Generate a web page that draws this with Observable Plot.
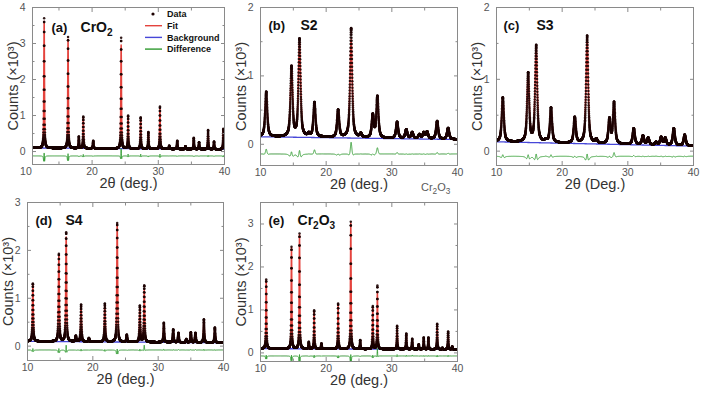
<!DOCTYPE html>
<html>
<head>
<meta charset="utf-8">
<script src="https://cdn.jsdelivr.net/npm/d3@7"></script>
<script src="https://cdn.jsdelivr.net/npm/@observablehq/plot@0.6"></script>
<style>
  body { margin: 0; background: #fff; }
  #fig { position: relative; width: 703px; height: 407px; overflow: hidden;
         font-family: "Liberation Sans", Arial, sans-serif; }
  #fig > svg, #fig > div { position: absolute; }
  .note { font-size: 11px; color: #5a5a5a; }
  .note sub { font-size: 75%; }
</style>
</head>
<body>
<div id="fig"></div>
<script>
// ---- Rietveld refinements of the five samples (counts in units of 10^3) ----
const panelTags   = ["(a)", "(b)", "(c)", "(d)", "(e)"];
const sampleNames = ["CrO₂", "S2", "S3", "S4", "Cr₂O₃"];
const xTitles     = ["2θ (deg.)", "2θ (deg.)", "2θ (Deg.)", "2θ (deg.)", "2θ (deg.)"];
const yTitle      = "Counts (×10³)";
const twoThetaRanges = [[11, 40], [10, 40], [10, 40], [10, 40], [10, 40]];
const countRanges    = [[-0.36, 4], [-0.31, 2], [-0.2, 2], [-0.3, 3], [-0.2, 3.5]];
const xTickLabels    = [10, 20, 30, 40];
const xMinorTicks    = [15, 25, 35];
const yTickLabels    = [[0, 1, 2, 3, 4], [0, 1, 2], [0, 1, 2], [0, 1, 2, 3], [0, 1, 2, 3]];
const yMinorTicks    = [[0.5, 1.5, 2.5, 3.5], [0.5, 1.5], [0.5, 1.5], [0.5, 1.5, 2.5], [0.5, 1.5, 2.5]];

// Reflection positions (2θ), fitted peak heights and observed peak heights
const posA = [12.76, 16.37, 18.0, 18.67, 20.17, 24.39, 25.44, 27.34, 28.5, 30.25, 31.65, 32.86, 34.1, 35.36, 36.16, 37.52, 38.42, 39.82];
const fitA = [3.62, 3.12, 0.42, 0.93, 0.30, 2.96, 0.95, 0.90, 0.54, 1.20, 0.16, 0.30, 0.15, 0.38, 0.26, 0.58, 0.28, 0.62];
const obsA = [3.70, 3.18, 0.42, 0.97, 0.30, 3.16, 1.00, 0.95, 0.54, 1.25, 0.16, 0.30, 0.15, 0.38, 0.26, 0.60, 0.28, 0.63];

const posB = [10.87, 14.72, 15.94, 17.36, 18.22, 19.39, 21.82, 23.8, 25.27, 27.1, 27.8, 30.8, 32.2, 33.1, 34.2, 34.86, 35.37, 36.9, 38.57];
const fitB = [0.70, 1.12, 1.50, 0.18, 0.56, 0.12, 0.51, 1.53, 0.17, 0.45, 0.62, 0.31, 0.22, 0.18, 0.15, 0.18, 0.19, 0.32, 0.23];
const obsB = [0.77, 1.15, 1.55, 0.18, 0.62, 0.12, 0.51, 1.70, 0.17, 0.45, 0.71, 0.33, 0.22, 0.18, 0.15, 0.18, 0.19, 0.34, 0.24];

const posC = [10.96, 14.82, 16.04, 17.5, 18.3, 19.48, 21.92, 23.8, 25.2, 27.2, 27.9, 30.9, 32.3, 33.1, 34.3, 35.07, 35.7, 37.0, 38.66];
const fitC = [0.73, 1.08, 1.45, 0.18, 0.59, 0.12, 0.48, 1.58, 0.18, 0.47, 0.64, 0.31, 0.22, 0.19, 0.13, 0.20, 0.19, 0.32, 0.23];
const obsC = [0.75, 1.10, 1.48, 0.18, 0.61, 0.12, 0.48, 1.61, 0.18, 0.47, 0.69, 0.32, 0.22, 0.19, 0.13, 0.20, 0.19, 0.32, 0.23];

const posD = [10.82, 14.8, 15.92, 17.4, 18.2, 19.4, 21.84, 23.73, 25.2, 27.2, 27.87, 30.87, 32.3, 33.1, 34.3, 35.0, 35.7, 37.0, 38.68];
const fitD = [1.28, 1.90, 2.28, 0.22, 0.85, 0.17, 0.88, 2.55, 0.24, 0.83, 1.17, 0.47, 0.34, 0.27, 0.15, 0.28, 0.27, 0.54, 0.38];
const obsD = [1.31, 1.93, 2.38, 0.22, 0.87, 0.17, 0.89, 2.57, 0.24, 0.85, 1.27, 0.49, 0.35, 0.28, 0.15, 0.29, 0.28, 0.56, 0.39];

const posE = [10.87, 14.72, 15.94, 17.36, 18.17, 19.28, 21.82, 23.75, 25.18, 27.1, 27.8, 30.8, 32.2, 33.1, 34.1, 34.86, 35.57, 36.9, 37.7, 38.57, 39.2];
const fitE = [1.69, 2.45, 2.75, 0.26, 0.97, 0.22, 1.14, 3.02, 0.30, 1.07, 1.40, 0.60, 0.43, 0.31, 0.20, 0.35, 0.35, 0.66, 0.12, 0.48, 0.15];
const obsE = [1.71, 2.47, 2.78, 0.26, 0.99, 0.22, 1.15, 3.05, 0.30, 1.09, 1.57, 0.63, 0.45, 0.33, 0.20, 0.36, 0.36, 0.68, 0.12, 0.50, 0.15];

// Linear background (start, end), offset of the difference curve, peak FWHM (deg) and Lorentzian fraction
const backgroundEnds    = [[0.10, 0.06], [0.11, 0.07], [0.13, 0.07], [0.10, 0.07], [0.10, 0.08]];
const differenceOffsets = [-0.12, -0.14, -0.07, -0.08, -0.07];
const fitFWHM           = [0.12, 0.40, 0.40, 0.16, 0.12];
const obsFWHM           = [0.11, 0.37, 0.37, 0.15, 0.11];
const lorentzFraction   = [0.6, 0.7, 0.7, 0.6, 0.6];
const scanStep = 0.01;

const peakPositions = [posA, posB, posC, posD, posE];
const fitHeights    = [fitA, fitB, fitC, fitD, fitE];
const obsHeights    = [obsA, obsB, obsC, obsD, obsE];

// ---- page layout: plot frame [left, top, right, bottom] of each panel ----
const frames = [[32, 7, 224, 164], [260, 7, 457, 165], [496, 7, 693, 165], [27, 202, 223, 360], [260, 202, 457, 361]];
const tagOffsets  = [[19, 15], [8, 13], [7, 13], [8, 13], [8, 13]];
const nameOffsets = [48, 40, 40, 38, 37];
const M = {left: 34, right: 10, top: 7, bottom: 38};

const COLORS = {data: "#1c0202", fit: "#e4433d", bg: "#4747d8", diff: "#2f9a2f", frame: "#8a8a8a", tick: "#555", title: "#333"};

// pseudo-Voigt peak shape, unit height
function pv(x, x0, w, eta) {
  const t = 2 * (x - x0) / w;
  return eta / (1 + t * t) + (1 - eta) * Math.exp(-Math.LN2 * t * t);
}
// amplitudes such that the summed profile reaches the given heights at each reflection
function amplitudes(pos, heights, bg, w, eta) {
  const base = pos.map(bg);
  let A = heights.map((h, i) => Math.max(h - base[i], 0));
  for (let it = 0; it < 60; it++) {
    A = A.map((a, i) => {
      const others = d3.sum(pos, (p, j) => (j === i ? 0 : A[j] * pv(pos[i], p, w, eta)));
      return Math.max(0.5 * a + 0.5 * (heights[i] - base[i] - others), 0);
    });
  }
  return A;
}

// render subscript digits of chemical formulas as lowered, smaller tspans
const SUBS = {"₂": "2", "₃": "3"};
function subscriptify(textEl) {
  const s = textEl.textContent;
  if (!/[₂₃]/.test(s)) return;
  textEl.textContent = "";
  let lowered = false;
  for (const ch of s) {
    const sub = SUBS[ch];
    const ts = d3.select(textEl).append("tspan").text(sub || ch);
    if (sub && !lowered) { ts.attr("dy", 3.5).attr("font-size", "72%"); lowered = true; }
    else if (sub) { ts.attr("font-size", "72%"); }
    else if (lowered) { ts.attr("dy", -3.5); lowered = false; }
  }
}

const fig = d3.select("#fig");

peakPositions.forEach((pos, k) => {
  const [x0, x1] = twoThetaRanges[k];
  const [b0, b1] = backgroundEnds[k];
  const bg = (x) => b0 + (b1 - b0) * (x - x0) / (x1 - x0);
  const eta = lorentzFraction[k];
  const aFit = amplitudes(pos, fitHeights[k], bg, fitFWHM[k], eta);
  const aObs = amplitudes(pos, obsHeights[k], bg, obsFWHM[k], eta);
  const n = Math.round((x1 - x0) / scanStep);
  const rows = d3.range(n + 1).map((i) => {
    const x = x0 + i * scanStep;
    const b = bg(x);
    const fit = b + d3.sum(pos, (p, j) => aFit[j] * pv(x, p, fitFWHM[k], eta));
    const obs = b + d3.sum(pos, (p, j) => aObs[j] * pv(x, p, obsFWHM[k], eta));
    return {x, bg: b, fit, obs, diff: obs - fit + differenceOffsets[k]};
  });

  const [fl, ft, fr, fb] = frames[k];
  const blank = () => "";
  const tickAxis = (Axis, anchor, ticks, size) =>
    Axis({anchor, ticks, tickSize: -size, tickFormat: blank, label: null, stroke: COLORS.frame});

  const chart = Plot.plot({
    width: fr - fl + M.left + M.right,
    height: fb - ft + M.top + M.bottom,
    marginLeft: M.left, marginRight: M.right, marginTop: M.top, marginBottom: M.bottom,
    x: {domain: twoThetaRanges[k]},
    y: {domain: countRanges[k]},
    style: {fontFamily: "Liberation Sans, Arial, sans-serif", background: "transparent", overflow: "visible"},
    marks: [
      Plot.line(rows, {x: "x", y: "bg", stroke: COLORS.bg, strokeWidth: 1.3, clip: true}),
      Plot.line(rows, {x: "x", y: "fit", stroke: COLORS.fit, strokeWidth: 1.5, clip: true}),
      Plot.dot(rows, {x: "x", y: "obs", r: 1.25, fill: COLORS.data, stroke: null, fillOpacity: 0.9, clip: true}),
      Plot.line(rows, {x: "x", y: "diff", stroke: COLORS.diff, strokeWidth: 0.9, clip: true}),
      Plot.frame({stroke: COLORS.frame}),
      // inward ticks on all four sides
      tickAxis(Plot.axisX, "bottom", xTickLabels.filter((t) => t >= x0), 4),
      tickAxis(Plot.axisX, "top", xTickLabels.filter((t) => t >= x0), 4),
      tickAxis(Plot.axisX, "bottom", xMinorTicks, 2.5),
      tickAxis(Plot.axisX, "top", xMinorTicks, 2.5),
      tickAxis(Plot.axisY, "left", yTickLabels[k], 4),
      tickAxis(Plot.axisY, "right", yTickLabels[k], 4),
      tickAxis(Plot.axisY, "left", yMinorTicks[k], 2.5),
      tickAxis(Plot.axisY, "right", yMinorTicks[k], 2.5),
      // tick labels
      Plot.axisX({anchor: "bottom", ticks: xTickLabels, tickFormat: "d", tickSize: 0, tickPadding: 3, fontSize: 10.5, fill: COLORS.tick, label: null}),
      Plot.axisY({anchor: "left", ticks: yTickLabels[k], tickFormat: "d", tickSize: 0, tickPadding: 7, fontSize: 10.5, fill: COLORS.tick, label: null}),
      // axis titles
      Plot.text([xTitles[k]], {frameAnchor: "bottom", dy: 23, fontSize: 14.5, fill: COLORS.title}),
      Plot.text([yTitle], {frameAnchor: "left", textAnchor: "middle", dx: -19, rotate: -90, fontSize: 14.5, fill: COLORS.title}),
      // panel tag and sample name
      Plot.text([panelTags[k]], {frameAnchor: "top-left", dx: tagOffsets[k][0], dy: tagOffsets[k][1], textAnchor: "start", fontSize: 13, fontWeight: "bold", fill: "#111"}),
      Plot.text([sampleNames[k]], {frameAnchor: "top-left", dx: nameOffsets[k], dy: tagOffsets[k][1], textAnchor: "start", fontSize: 14, fontWeight: "bold", fill: "#111"})
    ]
  });
  chart.querySelectorAll("text").forEach(subscriptify);
  d3.select(chart).style("left", `${fl - M.left}px`).style("top", `${ft - M.top}px`);
  fig.node().appendChild(chart);
});

// ---- legend inside panel (a) ----
const legendItems = [
  {label: "Data", kind: "dot", color: COLORS.data},
  {label: "Fit", kind: "line", color: COLORS.fit},
  {label: "Background", kind: "line", color: COLORS.bg},
  {label: "Difference", kind: "line", color: COLORS.diff}
];
const legend = fig.append("svg").attr("width", 80).attr("height", 56)
  .style("left", "140px").style("top", "7px");
const item = legend.selectAll("g").data(legendItems).join("g")
  .attr("transform", (d, i) => `translate(0,${7 + i * 11.7})`);
item.filter((d) => d.kind === "line").append("line")
  .attr("x1", 5).attr("x2", 22).attr("stroke", (d) => d.color).attr("stroke-width", 1.4);
item.filter((d) => d.kind === "dot").append("circle")
  .attr("cx", 13).attr("r", 1.6).attr("fill", (d) => d.color);
item.append("text").attr("x", 27).attr("dy", "0.35em")
  .attr("font-family", "Liberation Sans, Arial, sans-serif").attr("font-size", 9)
  .attr("font-weight", "bold").attr("fill", "#111").text((d) => d.label);

// small phase note below panel (b)
fig.append("div").attr("class", "note").style("left", "421px").style("top", "181px")
  .html("Cr<sub>2</sub>O<sub>3</sub>");
</script>
</body>
</html>
